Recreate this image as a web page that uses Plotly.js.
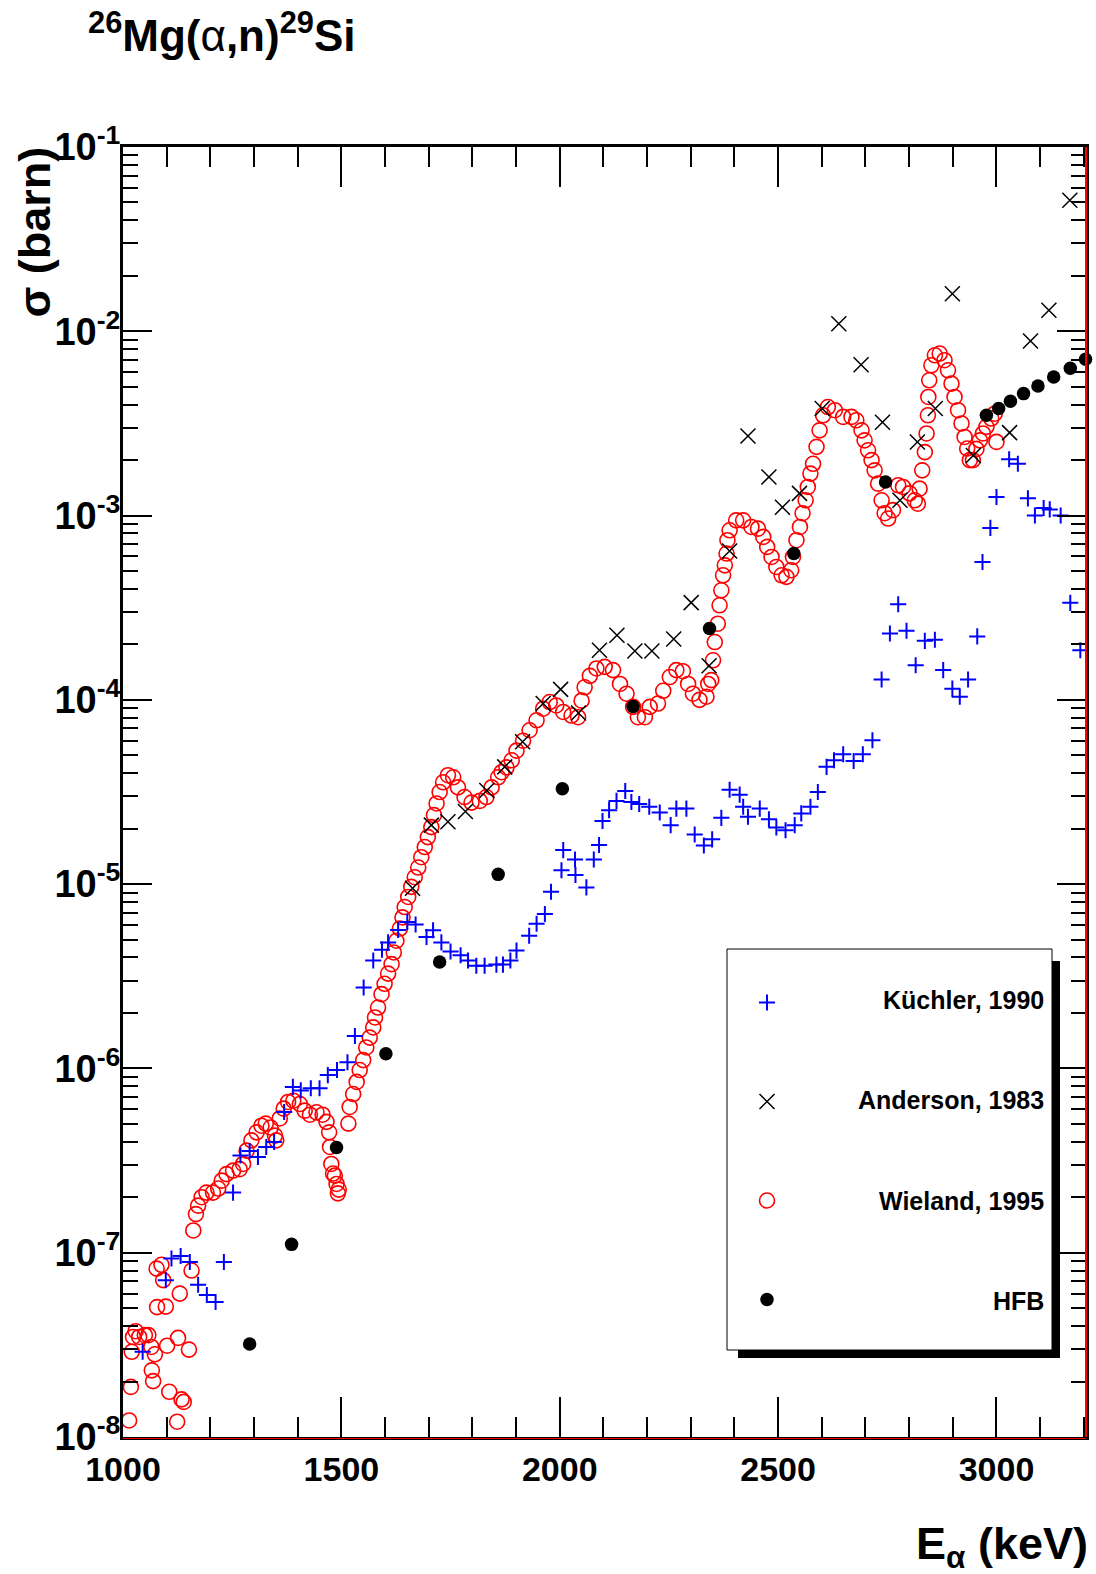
<!DOCTYPE html>
<html><head><meta charset="utf-8">
<script src="https://cdn.plot.ly/plotly-3.0.1.min.js"></script>
<style>html,body{margin:0;padding:0;background:#fff}#chart{width:1096px;height:1574px}</style>
</head><body><div id="chart"></div>
<script>
// ---- data ----
const kuchlerE = [1045,1098,1111,1132,1153,1172,1192,1212,1231,1252,1269,1290,1309,1328,1346,1369,1389,1407,1430,1450,1469,1490,1514,1531,1551,1573,1593,1607,1630,1651,1670,1695,1710,1729,1750,1773,1790,1809,1828,1855,1870,1887,1901,1930,1947,1966,1980,2004,2008,2035,2036,2061,2078,2090,2098,2113,2130,2150,2164,2182,2205,2229,2254,2267,2290,2309,2330,2349,2370,2389,2412,2420,2431,2458,2479,2496,2517,2538,2553,2574,2591,2611,2628,2649,2673,2694,2716,2737,2756,2775,2794,2815,2836,2859,2878,2899,2916,2935,2956,2968,2986,3000,3029,3049,3072,3088,3108,3122,3147,3169,3192,3206];
const kuchlerSigma = [2.9e-8,7.1e-8,9.3e-8,9.6e-8,8.9e-8,6.7e-8,5.9e-8,5.4e-8,8.9e-8,2.12e-7,3.37e-7,3.56e-7,3.31e-7,3.75e-7,3.99e-7,5.8e-7,7.94e-7,7.6e-7,7.8e-7,7.8e-7,9.2e-7,9.8e-7,1.08e-6,1.5e-6,2.75e-6,3.85e-6,4.41e-6,4.83e-6,5.64e-6,6.24e-6,6.04e-6,5.17e-6,5.62e-6,4.83e-6,4.31e-6,4.11e-6,3.85e-6,3.61e-6,3.61e-6,3.66e-6,3.66e-6,3.85e-6,4.36e-6,5.25e-6,6.1e-6,6.89e-6,9.1e-6,1.19e-5,1.53e-5,1.36e-5,1.12e-5,9.6e-6,1.36e-5,1.63e-5,2.2e-5,2.52e-5,2.83e-5,3.2e-5,2.79e-5,2.72e-5,2.63e-5,2.45e-5,2.09e-5,2.57e-5,2.57e-5,1.86e-5,1.62e-5,1.75e-5,2.29e-5,3.25e-5,3.06e-5,2.63e-5,2.32e-5,2.57e-5,2.25e-5,2.03e-5,1.96e-5,2.09e-5,2.42e-5,2.63e-5,3.16e-5,4.33e-5,4.7e-5,5.07e-5,4.66e-5,5.07e-5,6.04e-5,1.29e-4,2.29e-4,3.3e-4,2.37e-4,1.54e-4,2.09e-4,2.12e-4,1.45e-4,1.15e-4,1.04e-4,1.29e-4,2.21e-4,5.6e-4,8.57e-4,1.26e-3,2.02e-3,1.91e-3,1.24e-3,1.0e-3,1.1e-3,1.08e-3,1.0e-3,3.36e-4,1.86e-4,2.88e-4];

const andersonE = [1663,1706,1744,1784,1833,1874,1915,1962,2002,2043,2091,2131,2172,2211,2261,2301,2342,2389,2431,2479,2510,2549,2601,2639,2690,2739,2779,2819,2860,2899,2947,3030,3078,3120,3168];
const andersonSigma = [9.5e-6,2.09e-5,2.18e-5,2.48e-5,3.22e-5,4.33e-5,5.93e-5,9.55e-5,1.14e-4,8.49e-5,1.86e-4,2.24e-4,1.84e-4,1.84e-4,2.14e-4,3.37e-4,1.53e-4,6.43e-4,2.7e-3,1.62e-3,1.11e-3,1.32e-3,3.81e-3,1.1e-2,6.59e-3,3.21e-3,1.21e-3,2.51e-3,3.81e-3,1.6e-2,2.12e-3,2.82e-3,8.86e-3,1.3e-2,5.14e-2];

const wielandE = [1014,1018,1020,1023,1029,1037,1050,1058,1065,1066,1069,1073,1077,1078,1088,1092,1098,1101,1106,1124,1126,1130,1134,1139,1151,1157,
 1161,1167,1172,1180,1191,1206,1218,1226,1237,1252,1267,1275,1283,1294,1306,1317,1327,1338,1348,1351,1359,1368,1378,1390,1405,1416,1428,1443,1457,1466,1472,1474,1477,1481,1485,1489,1492,1494,
 1516,1519,1527,1535,1542,1550,1557,1565,1573,1577,1584,1592,1599,1607,1615,1620,1626,1634,1640,1645,1653,1660,1668,1676,1683,1691,1698,1706,1712,1718,1725,1733,1744,1756,1767,1782,1798,1817,1832,1844,1859,1867,1878,1890,1901,1916,1931,1947,1962,1977,1992,2008,2027,2042,2050,2057,2069,2084,2103,2122,2138,2153,2168,2179,2195,2206,2225,2237,2252,2267,2282,2294,2305,2320,2336,2340,2347,2351,2355,2362,2366,2370,2374,2378,2382,2384,2389,2404,2420,2439,2454,2466,2475,2485,2496,2508,2519,2530,2534,2542,2550,2556,2563,2568,2574,2580,2588,2595,2603,2614,2630,2649,2668,2679,2691,2698,2706,2714,2721,2729,2737,2744,2752,2763,2775,2786,2801,2813,2820,2824,2830,2836,2840,2843,2844,2846,2851,2859,2870,2881,2889,2897,2904,2912,2920,2927,2933,2939,2946,2954,2962,2969,2977,2988,2996,3000];
const wielandSigma = [1.23e-8,1.87e-8,2.9e-8,3.49e-8,3.75e-8,3.49e-8,3.57e-8,3.57e-8,3.08e-8,2.3e-8,2.01e-8,2.81e-8,8.2e-8,5.07e-8,8.6e-8,7.1e-8,5.1e-8,3.13e-8,1.76e-8,1.21e-8,3.45e-8,6.0e-8,1.6e-8,1.55e-8,2.98e-8,8.0e-8,
 1.32e-7,1.62e-7,1.8e-7,2.0e-7,2.12e-7,2.12e-7,2.23e-7,2.46e-7,2.67e-7,2.79e-7,2.84e-7,3.03e-7,3.58e-7,4.07e-7,4.5e-7,4.89e-7,5.02e-7,4.78e-7,4.32e-7,4.07e-7,5.35e-7,6.05e-7,6.58e-7,6.68e-7,6.41e-7,5.9e-7,5.61e-7,5.78e-7,5.61e-7,5.13e-7,4.5e-7,3.75e-7,3.03e-7,2.69e-7,2.62e-7,2.36e-7,2.1e-7,2.2e-7,
 5.02e-7,6.18e-7,7.26e-7,8.45e-7,9.8e-7,1.11e-6,1.3e-6,1.47e-6,1.67e-6,1.89e-6,2.14e-6,2.53e-6,2.88e-6,3.27e-6,3.68e-6,4.26e-6,4.93e-6,5.74e-6,6.6e-6,7.51e-6,8.52e-6,9.67e-6,1.09e-5,1.23e-5,1.4e-5,1.59e-5,1.8e-5,2.04e-5,2.37e-5,2.74e-5,3.16e-5,3.57e-5,3.9e-5,3.8e-5,3.35e-5,2.97e-5,2.77e-5,2.83e-5,2.97e-5,3.35e-5,3.8e-5,4.05e-5,4.3e-5,4.7e-5,5.3e-5,6.0e-5,6.84e-5,7.75e-5,8.95e-5,9.73e-5,9.32e-5,8.6e-5,8.22e-5,8.05e-5,9.9e-5,1.17e-4,1.35e-4,1.48e-4,1.51e-4,1.45e-4,1.22e-4,1.08e-4,9.16e-5,8.05e-5,8.05e-5,9.16e-5,9.55e-5,1.12e-4,1.33e-4,1.45e-4,1.43e-4,1.22e-4,1.08e-4,1.0e-4,1.04e-4,1.22e-4,1.28e-4,1.64e-4,2.06e-4,2.59e-4,3.26e-4,3.93e-4,4.74e-4,5.37e-4,6.22e-4,7.35e-4,8.32e-4,9.42e-4,9.42e-4,8.67e-4,8.49e-4,7.66e-4,6.76e-4,5.96e-4,5.26e-4,4.74e-4,4.65e-4,5.05e-4,5.96e-4,7.35e-4,8.67e-4,1.03e-3,1.21e-3,1.43e-3,1.69e-3,1.91e-3,2.36e-3,2.9e-3,3.5e-3,3.88e-3,3.73e-3,3.43e-3,3.43e-3,3.29e-3,2.9e-3,2.56e-3,2.26e-3,2.0e-3,1.76e-3,1.49e-3,1.21e-3,1.03e-3,9.64e-4,1.07e-3,1.46e-3,1.43e-3,1.32e-3,1.21e-3,1.16e-3,1.4e-3,1.76e-3,2.21e-3,2.79e-3,3.5e-3,4.4e-3,5.42e-3,6.54e-3,7.41e-3,7.57e-3,6.97e-3,6.14e-3,5.2e-3,4.4e-3,3.73e-3,3.16e-3,2.67e-3,2.31e-3,2.0e-3,2.0e-3,2.3e-3,2.56e-3,2.79e-3,3.03e-3,3.36e-3,3.57e-3,2.51e-3];

const hfbE = [1290,1386,1489,1602,1725,1859,2006,2168,2343,2536,2746,2977,3005,3032,3062,3095,3131,3169,3204];
const hfbSigma = [3.2e-8,1.11e-7,3.72e-7,1.2e-6,3.78e-6,1.13e-5,3.29e-5,9.2e-5,2.44e-4,6.22e-4,1.52e-3,3.5e-3,3.81e-3,4.17e-3,4.59e-3,5.05e-3,5.65e-3,6.3e-3,7.05e-3];

const legendLabels = ['Küchler, 1990', 'Anderson, 1983', 'Wieland, 1995', 'HFB'];
const yTickVals = [1e-8, 1e-7, 1e-6, 1e-5, 1e-4, 1e-3, 1e-2, 1e-1];
const yTickText = ['10<sup>-8</sup>', '10<sup>-7</sup>', '10<sup>-6</sup>', '10<sup>-5</sup>', '10<sup>-4</sup>', '10<sup>-3</sup>', '10<sup>-2</sup>', '10<sup>-1</sup>'];
const chartTitle = '<sup>26</sup>Mg(<span style="font-weight:normal">α</span>,n)<sup>29</sup>Si';
const xTitle = 'E<sub>α</sub> (keV)';
const yTitle = 'σ (barn)';
const xRange = [1000, 3205];
const yRangeLog = [-8, -1];

// ---- drawing ----
const FONT = 'Liberation Sans, Arial, Helvetica, sans-serif';

const traces = [
  {name: '', x: wielandE, y: wielandSigma, type: 'scatter', mode: 'markers', cliponaxis: false,
   legendgroup: 'c', legendrank: 3,
   marker: {symbol: 'circle-open', size: 15, color: '#ff0000', line: {color: '#ff0000', width: 1.6}}},
  {name: '', x: kuchlerE, y: kuchlerSigma, type: 'scatter', mode: 'markers', cliponaxis: false,
   legendgroup: 'a', legendrank: 1,
   marker: {symbol: 'cross-thin', size: 11.5, color: '#0000ff', line: {color: '#0000ff', width: 2}}},
  {name: '', x: andersonE, y: andersonSigma, type: 'scatter', mode: 'markers', cliponaxis: false,
   legendgroup: 'b', legendrank: 2,
   marker: {symbol: 'x-thin', size: 15, color: '#000000', line: {color: '#000000', width: 1.5}}},
  {name: '', x: hfbE, y: hfbSigma, type: 'scatter', mode: 'markers', cliponaxis: false,
   legendgroup: 'd', legendrank: 4,
   marker: {symbol: 'circle', size: 13.5, color: '#000000', line: {width: 0}}}
];

const W = 1096, H = 1574, ML = 123, MR = 10, MT = 147, MB = 137;
const PW = W - ML - MR, PH = H - MT - MB;
const px2x = p => (p - ML) / PW;
const px2y = p => 1 - (p - MT) / PH;

const legendRows = [1000, 1100, 1201, 1301];
const annotations = legendLabels.map((t, i) => ({
  text: t, xref: 'paper', yref: 'paper', x: px2x(1046), y: px2y(legendRows[i]),
  xanchor: 'right', yanchor: 'middle', showarrow: false,
  font: {family: FONT, size: 25, color: '#000', weight: 'bold'}
}));
annotations.push({
  text: yTitle, xref: 'paper', yref: 'paper', x: px2x(34), y: px2y(145),
  xanchor: 'center', yanchor: 'top', textangle: -90, showarrow: false,
  font: {family: FONT, size: 45, color: '#000', weight: 'bold'}
});
annotations.push({
  text: xTitle, xref: 'paper', yref: 'paper', x: px2x(1090), y: px2y(1546),
  xanchor: 'right', yanchor: 'middle', showarrow: false,
  font: {family: FONT, size: 45, color: '#000', weight: 'bold'}
});

const shapes = [
  {type: 'rect', xref: 'paper', yref: 'paper', x0: px2x(738), x1: px2x(1060), y0: px2y(961), y1: px2y(1358),
   fillcolor: '#000', line: {width: 0}, layer: 'above'},
  {type: 'rect', xref: 'paper', yref: 'paper', x0: px2x(727), x1: px2x(1052), y0: px2y(949), y1: px2y(1350),
   fillcolor: '#fff', line: {color: '#000', width: 1}, layer: 'above'},
  {type: 'line', xref: 'paper', yref: 'paper', x0: 1, x1: 1, y0: 0, y1: 1,
   line: {color: '#ff0000', width: 2}, layer: 'above'},
  {type: 'line', xref: 'paper', yref: 'paper', x0: 0, x1: 1, y0: -1.5 / PH, y1: -1.5 / PH,
   line: {color: '#ff0000', width: 1}, layer: 'above'}
];

const xTickFont = {family: FONT, size: 34, color: '#000', weight: 'bold'};
const yTickFont = {family: FONT, size: 38, color: '#000', weight: 'bold'};

const layout = {
  width: W, height: H,
  margin: {l: ML, r: MR, t: MT, b: MB, pad: 0},
  paper_bgcolor: '#fff', plot_bgcolor: '#fff',
  showlegend: true,
  title: {text: chartTitle, font: {family: FONT, size: 44, color: '#000', weight: 'bold'},
          xref: 'container', x: 88 / W, xanchor: 'left', yref: 'container', y: 1 - 36 / H, yanchor: 'middle'},
  xaxis: {
    type: 'linear', range: xRange, autorange: false,
    tick0: 1000, dtick: 500, ticks: 'inside', ticklen: 40, tickwidth: 2, tickcolor: '#000',
    minor: {dtick: 100, tick0: 1000, ticks: 'inside', ticklen: 20, tickwidth: 2, tickcolor: '#000', showgrid: false},
    showline: true, linecolor: '#000', linewidth: 3, mirror: 'ticks',
    showgrid: false, zeroline: false, tickfont: xTickFont, ticklabelstandoff: 0, automargin: false
  },
  yaxis: {
    type: 'log', range: yRangeLog, autorange: false,
    tickmode: 'array', tickvals: yTickVals, ticktext: yTickText,
    ticks: 'inside', ticklen: 29, tickwidth: 2, tickcolor: '#000',
    minor: {dtick: 'D1', ticks: 'inside', ticklen: 15, tickwidth: 2, tickcolor: '#000', showgrid: false},
    showline: true, linecolor: '#000', linewidth: 3, mirror: 'ticks',
    showgrid: false, zeroline: false, tickfont: yTickFont, ticklabelstandoff: -8, automargin: false
  },
  legend: {
    x: px2x(747), xanchor: 'left', y: px2y(983), yanchor: 'top',
    bgcolor: 'rgba(0,0,0,0)', borderwidth: 0, traceorder: 'grouped', tracegroupgap: 70,
    font: {family: FONT, size: 20, color: '#000'}, itemsizing: 'trace'
  },
  annotations: annotations,
  shapes: shapes
};

Plotly.newPlot('chart', traces, layout, {displayModeBar: false, staticPlot: true});
</script>
</body></html>
